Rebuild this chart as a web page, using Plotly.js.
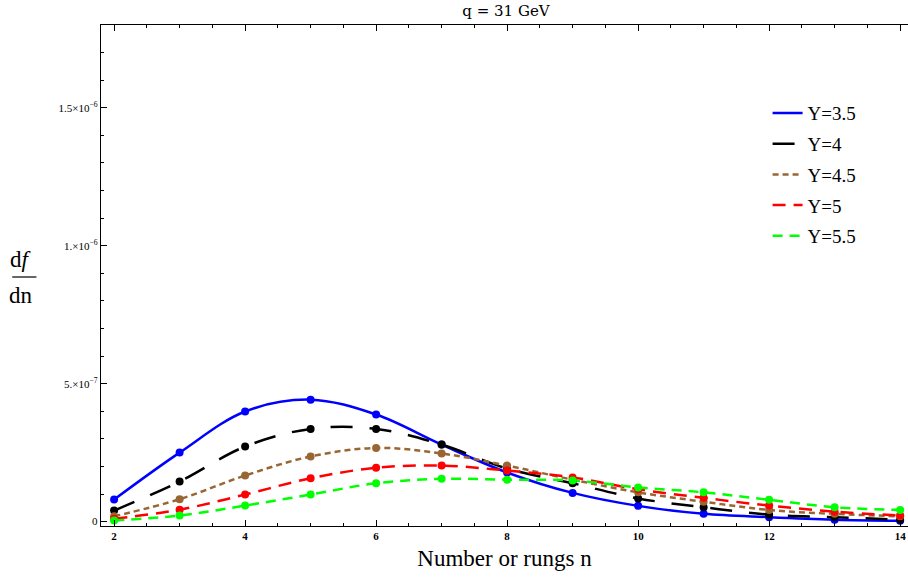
<!DOCTYPE html>
<html>
<head>
<meta charset="utf-8">
<script src="https://cdn.plot.ly/plotly-3.0.1.min.js"></script>
<style>html,body{margin:0;padding:0;background:#fff}#chart{width:908px;height:581px}</style>
</head>
<body>
<div id="chart"></div>
<script>
const nValues = [2,3,4,5,6,7,8,9,10,11,12,13,14];
const seriesNames = ["Y=3.5","Y=4","Y=4.5","Y=5","Y=5.5"];
const y35 = [8.0e-8,2.5e-7,3.99e-7,4.42e-7,3.88e-7,2.79e-7,1.78e-7,1.04e-7,5.7e-8,2.8e-8,1.6e-8,7e-9,3e-9];
const y40 = [4.0e-8,1.45e-7,2.72e-7,3.36e-7,3.36e-7,2.79e-7,1.92e-7,1.39e-7,8.4e-8,5.2e-8,2.5e-8,1.6e-8,7e-9];
const y45 = [1.9e-8,8.1e-8,1.67e-7,2.36e-7,2.67e-7,2.47e-7,2.03e-7,1.52e-7,1.06e-7,7.2e-8,4.2e-8,2.8e-8,1.9e-8];
const y50 = [1.0e-8,4.3e-8,9.8e-8,1.57e-7,1.95e-7,2.03e-7,1.85e-7,1.6e-7,1.17e-7,8.6e-8,5.8e-8,3.6e-8,2.2e-8];
const y55 = [4e-9,2.2e-8,5.8e-8,9.8e-8,1.39e-7,1.55e-7,1.52e-7,1.49e-7,1.24e-7,1.06e-7,7.9e-8,5.2e-8,4.2e-8];
const yTickVals = [0,5e-7,1e-6,1.5e-6];
const yTickText = ["0","5.×10<sup>−7</sup>","1.×10<sup>−6</sup>","1.5×10<sup>−6</sup>"];
const xTickVals = [2,4,6,8,10,12,14];

const allSeries = [y35,y40,y45,y50,y55];
const colors = ["#0000ff","#000000","#996633","#ff0000","#00ff00"];
const dashes = ["solid","22px,17px","6px,4px","13px,8px","10px,7px"];

const traces = [];
allSeries.forEach((ys,i)=>{
  traces.push({x:nValues,y:ys,type:"scatter",mode:"lines",name:seriesNames[i],
    legendgroup:"g"+i,line:{color:colors[i],width:2.5,dash:dashes[i],shape:"spline",smoothing:1},hoverinfo:"skip"});
});
allSeries.forEach((ys,i)=>{
  traces.push({x:nValues,y:ys,type:"scatter",mode:"markers",showlegend:false,
    marker:{color:colors[i],size:8},cliponaxis:false,hoverinfo:"skip"});
});

const serif = "Liberation Serif, Times New Roman, serif";
const layout = {
  width:908,height:581,
  margin:{l:101,r:0,t:25,b:55},
  paper_bgcolor:"#fff",plot_bgcolor:"#fff",
  showlegend:true,
  title:{text:"q = 31 GeV",font:{family:"DejaVu Serif, serif",size:15,color:"#000"},x:506/908,xanchor:"center",xref:"container",y:0.99,yanchor:"top"},
  xaxis:{range:[1.80,14.12],tickvals:xTickVals,ticks:"inside",ticklen:6,tickwidth:1,tickcolor:"#000",
    showline:true,linecolor:"#000",linewidth:1.2,mirror:"ticks",showgrid:false,zeroline:false,
    minor:{dtick:0.5,tick0:0,ticks:"inside",ticklen:3,tickcolor:"#000"},
    tickfont:{family:serif,size:11,color:"#000",weight:"bold"},
    title:{text:"Number or rungs n",font:{family:serif,size:23,color:"#000"},standoff:8}},
  yaxis:{range:[-1.6e-8,1.8e-6],tickvals:yTickVals,ticktext:yTickText,ticks:"inside",ticklen:6,tickwidth:1,tickcolor:"#000",
    showline:true,linecolor:"#000",linewidth:1.2,showgrid:false,zeroline:false,
    minor:{dtick:1e-7,tick0:0,ticks:"inside",ticklen:3,tickcolor:"#000"},
    tickfont:{family:serif,size:11,color:"#000"}},
  legend:{x:0.826,y:0.862,xanchor:"left",yanchor:"top",bgcolor:"rgba(0,0,0,0)",
    font:{family:serif,size:19,color:"#000"},tracegroupgap:3,traceorder:"grouped"},
  annotations:[
    {xref:"paper",yref:"paper",x:-0.099,y:(526-259)/501,xanchor:"center",yanchor:"middle",showarrow:false,
      text:"d<i>f</i>",font:{family:serif,size:23,color:"#000"}},
    {xref:"paper",yref:"paper",x:-0.099,y:(526-295)/501,xanchor:"center",yanchor:"middle",showarrow:false,
      text:"dn",font:{family:serif,size:23,color:"#000"}}
  ],
  shapes:[
    {type:"line",xref:"paper",yref:"paper",x0:-0.110,x1:-0.080,y0:(526-277)/501,y1:(526-277)/501,line:{color:"#000",width:1.2}}
  ]
};
Plotly.newPlot("chart",traces,layout,{displayModeBar:false,staticPlot:true});
</script>
</body>
</html>
